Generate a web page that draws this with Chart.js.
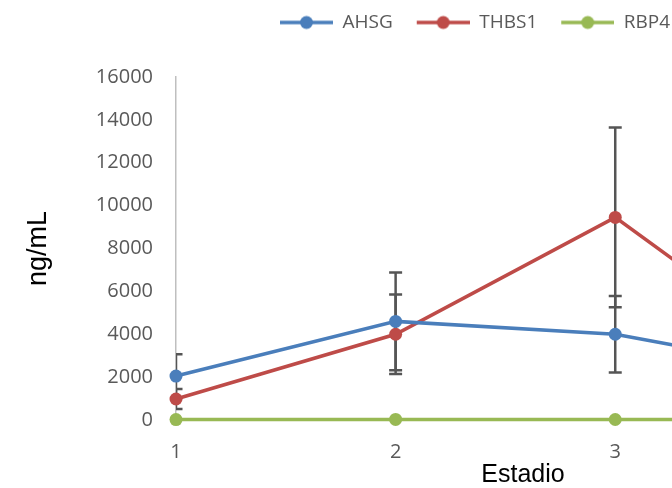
<!DOCTYPE html>
<html>
<head>
<meta charset="utf-8">
<script src="https://cdn.jsdelivr.net/npm/chart.js@4"></script>
<style>
  html, body { margin: 0; padding: 0; background: #fff; }
  body { width: 672px; height: 488px; overflow: hidden; }
  #wrap { width: 935px; height: 488px; }
</style>
</head>
<body>
<div id="wrap"><canvas id="chart" width="935" height="488"></canvas></div>
<script>
// Estadio vs ng/mL, mean +/- SD per stage
const stages = [1, 2, 3, 4];
const seriesNames = ['AHSG', 'THBS1', 'RBP4'];
const ahsg = [2050, 4600, 4000, 2100];
const ahsgSd = [1020, 2280, 1780, 900];
const thbs1 = [980, 4000, 9450, 2000];
const thbs1Sd = [470, 1860, 4190, 1000];
const rbp4 = [20, 25, 22, 20];
const rbp4Sd = [5, 6, 5, 5];
const yTicks = [0, 2000, 4000, 6000, 8000, 10000, 12000, 14000, 16000];

const COLORS = {
  blue: '#4a7ebb',
  red: '#be4b48',
  green: '#98b954',
  tick: '#595959',
  axis: '#bfbfbf',
  err: '#555555',
};
const TICK_FONT = { family: 'Open Sans', size: 20 };

// legend symbol: line with a dot, like the Excel legend
function legendSymbol(color) {
  const c = document.createElement('canvas');
  c.width = 67; c.height = 16;
  const g = c.getContext('2d');
  g.strokeStyle = color;
  g.lineWidth = 3.5;
  g.beginPath(); g.moveTo(14, 8); g.lineTo(67, 8); g.stroke();
  g.fillStyle = color;
  g.beginPath(); g.arc(40.5, 8, 6.5, 0, Math.PI * 2); g.fill();
  return c;
}

function series(label, values, sd, color) {
  return {
    label,
    data: values.map((v, i) => ({ x: stages[i], y: v })),
    sd,
    borderColor: color,
    backgroundColor: color,
    borderWidth: 3.5,
    pointRadius: 6.5,
    pointBorderWidth: 0,
    pointBackgroundColor: color,
    tension: 0,
    clip: 12,
    symbol: legendSymbol(color),
  };
}

// error bars, drawn under the lines and clipped to the plot area
const errorBars = {
  id: 'errorBars',
  beforeDatasetsDraw(chart) {
    const { ctx, chartArea, scales: { x, y } } = chart;
    ctx.save();
    ctx.beginPath();
    ctx.rect(chartArea.left, 0, chartArea.right - chartArea.left, chart.height);
    ctx.clip();
    ctx.strokeStyle = COLORS.err;
    ctx.lineWidth = 2.5;
    chart.data.datasets.forEach(ds => {
      ds.data.forEach((p, i) => {
        const px = x.getPixelForValue(p.x);
        const top = y.getPixelForValue(p.y + ds.sd[i]);
        const bot = y.getPixelForValue(p.y - ds.sd[i]);
        ctx.beginPath();
        ctx.moveTo(px, top); ctx.lineTo(px, bot);
        ctx.moveTo(px - 6.5, top); ctx.lineTo(px + 6.5, top);
        ctx.moveTo(px - 6.5, bot); ctx.lineTo(px + 6.5, bot);
        ctx.stroke();
      });
    });
    ctx.restore();
  }
};

// extra room under the legend, and centre it over the whole (wider) chart
const legendPlace = {
  id: 'legendPlace',
  beforeInit(chart) {
    const fit = chart.legend.fit;
    chart.legend.fit = function () {
      fit.bind(chart.legend)();
      this.height += 35;
    };
  },
  afterLayout(chart) {
    chart.legend.left += 33;
    chart.legend.right += 33;
  }
};

new Chart(document.getElementById('chart'), {
  type: 'line',
  data: {
    datasets: [
      series(seriesNames[0], ahsg, ahsgSd, COLORS.blue),
      series(seriesNames[1], thbs1, thbs1Sd, COLORS.red),
      series(seriesNames[2], rbp4, rbp4Sd, COLORS.green),
    ]
  },
  options: {
    responsive: false,
    animation: false,
    layout: { padding: { top: 3, right: 65, bottom: 0, left: 0 } },
    plugins: {
      tooltip: { enabled: false },
      legend: {
        position: 'top',
        align: 'center',
        labels: {
          usePointStyle: true,
          pointStyleWidth: 67,
          padding: 10,
          color: COLORS.tick,
          font: { family: 'Open Sans', size: 19 },
          generateLabels(chart) {
            const items = Chart.defaults.plugins.legend.labels.generateLabels(chart);
            items.forEach(it => { it.pointStyle = chart.data.datasets[it.datasetIndex].symbol; });
            return items;
          }
        }
      }
    },
    scales: {
      x: {
        type: 'linear',
        min: 1,
        max: 4.16,
        grid: { display: false, drawTicks: false },
        border: { color: COLORS.axis, width: 1.5 },
        ticks: {
          stepSize: 1,
          padding: 20,
          color: COLORS.tick,
          font: TICK_FONT,
          callback: v => Number.isInteger(v) ? String(v) : ''
        },
        title: {
          display: true,
          text: 'Estadio',
          color: '#000',
          font: { family: 'Liberation Sans', size: 25, lineHeight: 1 },
          padding: 0
        },
        afterFit(s) { s.height = 68; }
      },
      y: {
        min: 0,
        max: 16000,
        grid: { display: false, drawTicks: false },
        border: { color: COLORS.axis, width: 1.5 },
        afterBuildTicks(s) { s.ticks = yTicks.map(v => ({ value: v })); },
        ticks: {
          padding: 23,
          color: COLORS.tick,
          font: TICK_FONT,
          callback: v => String(v)
        },
        title: {
          display: true,
          text: 'ng/mL',
          color: '#000',
          font: { family: 'Liberation Sans', size: 27, lineHeight: 1 },
          padding: { top: 25, bottom: 0 }
        },
        afterFit(s) { s.width = 176; }
      }
    }
  },
  plugins: [errorBars, legendPlace]
});
</script>
</body>
</html>
